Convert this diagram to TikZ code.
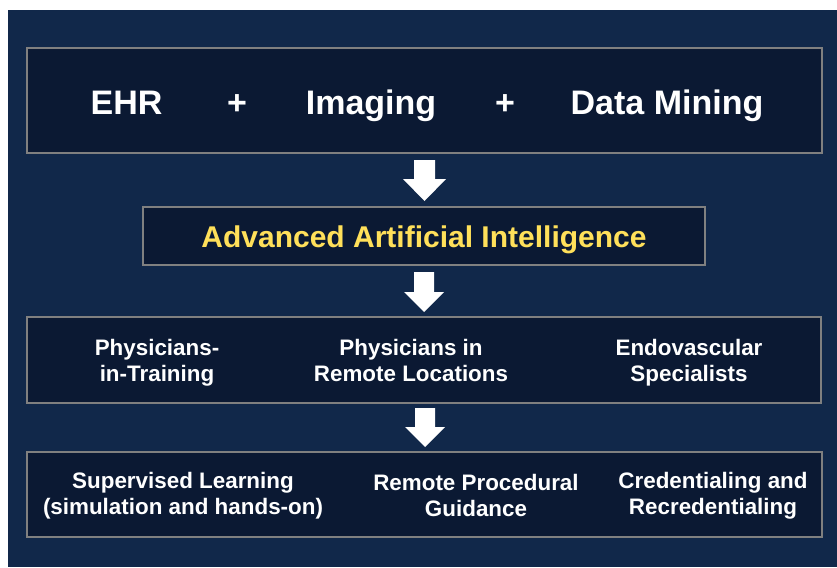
\documentclass[tikz,border=0pt]{standalone}
\usepackage{fontspec}
\setmainfont{Liberation Sans}
\usetikzlibrary{fit}
\definecolor{pagebg}{RGB}{17,40,74}
\definecolor{boxfill}{RGB}{11,25,51}
\definecolor{boxline}{RGB}{128,128,128}
\definecolor{aiyellow}{RGB}{255,224,90}
\tikzset{
  panel/.style={draw=boxline, line width=1.1pt, fill=boxfill, inner sep=0pt, rectangle},
  bigtxt/.style={text=white, anchor=base, font=\bfseries\fontsize{25.5}{30}\selectfont, inner sep=0pt},
  aitxt/.style={text=aiyellow, anchor=base, font=\bfseries\fontsize{22.5}{27}\selectfont, inner sep=0pt},
  usertxt/.style={text=white, anchor=north, align=center, font=\bfseries\fontsize{16.8}{19.6}\selectfont, inner sep=0pt},
  usetxt/.style={text=white, anchor=north, align=center, font=\bfseries\fontsize{16.8}{20.2}\selectfont, inner sep=0pt},
  flowarrow/.style={fill=white}
}
\begin{document}
\begin{tikzpicture}[x=0.75pt,y=-0.75pt]
\useasboundingbox (0,0) rectangle (837,567);
\fill[pagebg] (8,10) rectangle (837,567);

% panels
\node[panel, fit={(27,48) (822,153)}] (sources) {};
\node[panel, fit={(143,207) (705,265)}] (ai) {};
\node[panel, fit={(27,317) (821,403)}] (users) {};
\node[panel, fit={(27,452) (822,537)}] (uses) {};

% data sources
\node[bigtxt] (ehr) at (126.5,114) {EHR};
\node[bigtxt] (plus1) at (237,114) {+};
\node[bigtxt] (imaging) at (371,114) {Imaging};
\node[bigtxt] (plus2) at (505,114) {+};
\node[bigtxt] (mining) at (667,114) {Data Mining};

% AI
\node[aitxt] (aitext) at (424,247) {Advanced Artificial Intelligence};

% users
\node[usertxt] (trainees) at (157,339) {Physicians-\\in-Training};
\node[usertxt] (remote) at (411,339) {Physicians in\\Remote Locations};
\node[usertxt] (endo) at (689,339) {Endovascular\\Specialists};

% applications
\node[usetxt] (supervised) at (183,471.5) {Supervised Learning\\(simulation and hands-on)};
\node[usetxt] (guidance) at (476,473.5) {Remote Procedural\\Guidance};
\node[usetxt] (cred) at (713,471.5) {Credentialing and\\Recredentialing};

% block arrows between panels
\fill[flowarrow] (414,160) -- (435,160) -- (435,179) -- (446,179) -- (424.5,201) -- (403,179) -- (414,179) -- cycle;
\fill[flowarrow] (414,272) -- (434,272) -- (434,292) -- (444,292) -- (424,312) -- (404,292) -- (414,292) -- cycle;
\fill[flowarrow] (415,408) -- (435,408) -- (435,427) -- (445,427) -- (425,447) -- (405,427) -- (415,427) -- cycle;
\end{tikzpicture}
\end{document}
